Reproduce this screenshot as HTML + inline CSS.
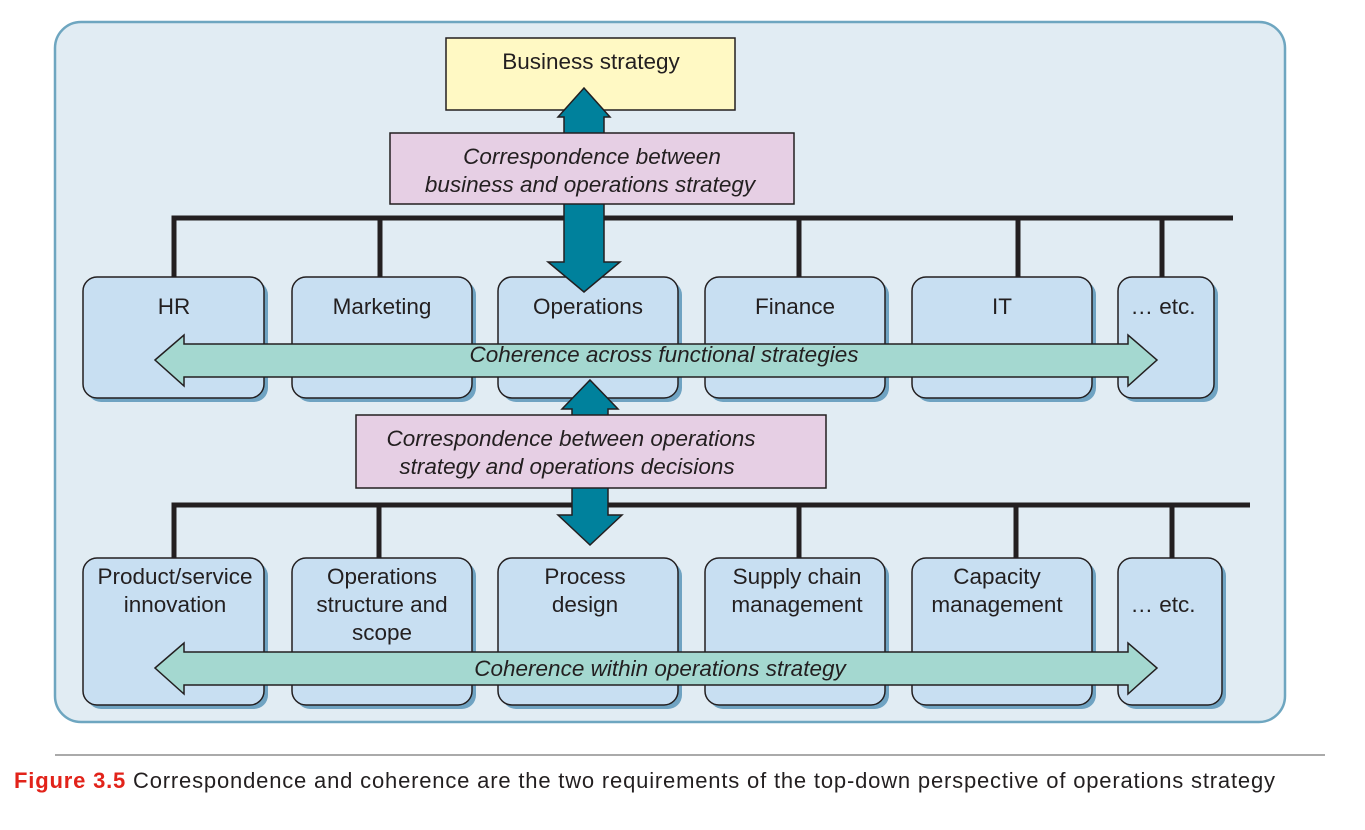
<!DOCTYPE html>
<html><head><style>
body{margin:0;width:1365px;height:825px;background:#fff;overflow:hidden}
svg text{font-family:"Liberation Sans",sans-serif;fill:#231f20}
</style></head><body>
<svg width="1365" height="825" xmlns="http://www.w3.org/2000/svg">
<rect x="55" y="22" width="1230" height="700" rx="26" fill="#e1ecf3" stroke="#6ea6c0" stroke-width="2.5"/>
<g stroke="#231f20" stroke-width="5" fill="none">
<path d="M174 277V218H1233"/><path d="M380 218V277M799 218V277M1018 218V277M1162 218V277"/>
<path d="M174 558V505H1250"/><path d="M379 505V558M799 505V558M1016 505V558M1172 505V558"/>
</g>
<g stroke="#231f20" stroke-width="1.5">
<g fill="#6fa3c2" stroke="none">
<rect x="87" y="281" width="181" height="121" rx="14"/><rect x="296" y="281" width="180" height="121" rx="14"/><rect x="502" y="281" width="180" height="121" rx="14"/><rect x="709" y="281" width="180" height="121" rx="14"/><rect x="916" y="281" width="180" height="121" rx="14"/><rect x="1122" y="281" width="96" height="121" rx="14"/>
<rect x="87" y="562" width="181" height="147" rx="14"/><rect x="296" y="562" width="180" height="147" rx="14"/><rect x="502" y="562" width="180" height="147" rx="14"/><rect x="709" y="562" width="180" height="147" rx="14"/><rect x="916" y="562" width="180" height="147" rx="14"/><rect x="1122" y="562" width="104" height="147" rx="14"/>
</g>
<g fill="#c8dff2">
<rect x="83" y="277" width="181" height="121" rx="14"/><rect x="292" y="277" width="180" height="121" rx="14"/><rect x="498" y="277" width="180" height="121" rx="14"/><rect x="705" y="277" width="180" height="121" rx="14"/><rect x="912" y="277" width="180" height="121" rx="14"/><rect x="1118" y="277" width="96" height="121" rx="14"/>
<rect x="83" y="558" width="181" height="147" rx="14"/><rect x="292" y="558" width="180" height="147" rx="14"/><rect x="498" y="558" width="180" height="147" rx="14"/><rect x="705" y="558" width="180" height="147" rx="14"/><rect x="912" y="558" width="180" height="147" rx="14"/><rect x="1118" y="558" width="104" height="147" rx="14"/>
</g>
<rect x="446" y="38" width="289" height="72" fill="#fff9c4"/>
<path d="M584 88L610 117H604V262H620L584 292L548 262H564V117H558Z" fill="#00819c"/>
<rect x="390" y="133" width="404" height="71" fill="#e6cfe4"/>
<path d="M155 360L184 335V344H1128V335L1157 360L1128 386V377H184V386Z" fill="#a4d8d0"/>
<path d="M590 380L618 409H608V515H622L590 545L558 515H572V409H562Z" fill="#00819c"/>
<rect x="356" y="415" width="470" height="73" fill="#e6cfe4"/>
<path d="M155 668L184 643V652H1128V643L1157 668L1128 694V685H184V694Z" fill="#a4d8d0"/>
</g>
<g font-size="22.5" text-anchor="middle">
<text x="591" y="69">Business strategy</text>
<text x="592" y="164" font-style="italic">Correspondence between</text>
<text x="590" y="192" font-style="italic">business and operations strategy</text>
<text x="174" y="314">HR</text><text x="382" y="314">Marketing</text><text x="588" y="314">Operations</text><text x="795" y="314">Finance</text><text x="1002" y="314">IT</text><text x="1163" y="314">… etc.</text>
<text x="664" y="362" font-style="italic">Coherence across functional strategies</text>
<text x="571" y="446" font-style="italic">Correspondence between operations</text>
<text x="567" y="474" font-style="italic">strategy and operations decisions</text>
<text x="175" y="584">Product/service</text><text x="175" y="612">innovation</text>
<text x="382" y="584">Operations</text><text x="382" y="612">structure and</text><text x="382" y="640">scope</text>
<text x="585" y="584">Process</text><text x="585" y="612">design</text>
<text x="797" y="584">Supply chain</text><text x="797" y="612">management</text>
<text x="997" y="584">Capacity</text><text x="997" y="612">management</text>
<text x="1163" y="612">… etc.</text>
<text x="660" y="676" font-style="italic">Coherence within operations strategy</text>
</g>
<line x1="55" y1="755" x2="1325" y2="755" stroke="#555" stroke-width="1"/>
<text x="14" y="788" font-size="22" textLength="1261" lengthAdjust="spacing"><tspan font-weight="bold" style="fill:#e2231a">Figure 3.5</tspan> Correspondence and coherence are the two requirements of the top-down perspective of operations strategy</text>
</svg>
</body></html>
